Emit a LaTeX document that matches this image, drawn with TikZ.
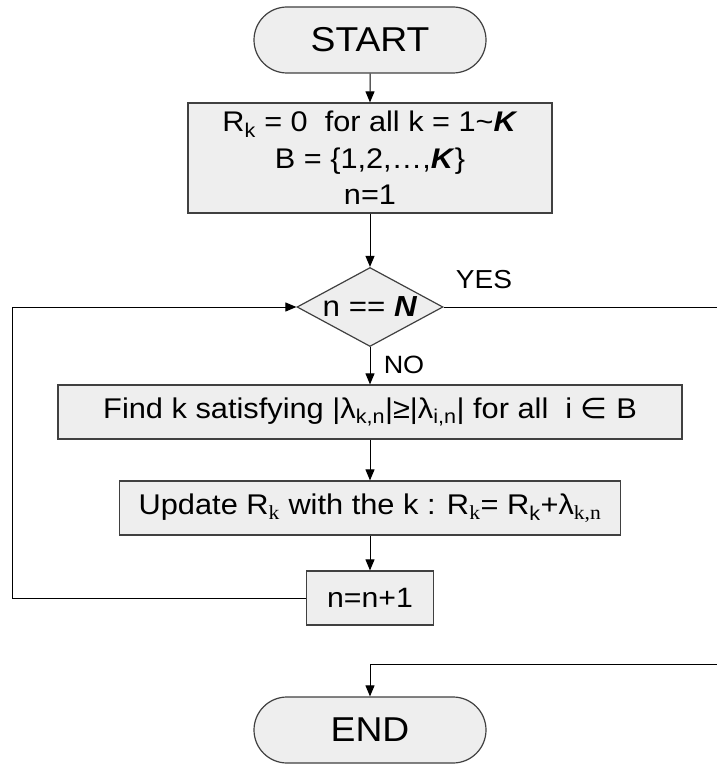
\documentclass[tikz,border=0pt]{standalone}
\usepackage{fontspec}
\setmainfont[FakeStretch=1.08]{Liberation Sans}
\newfontfamily\symfont[FakeStretch=1.08]{DejaVu Sans}
\newfontfamily\serifsub[FakeStretch=1.08]{Liberation Serif}
\usetikzlibrary{shapes.geometric,shapes.misc,arrows.meta}
\definecolor{boxfill}{RGB}{238,238,238}
\newcommand{\sz}[2]{\fontsize{#1}{#2}\selectfont}
\begin{document}
\begin{tikzpicture}[x=1pt,y=-1pt,
  box/.style={draw=black!75,fill=boxfill,line width=1.2pt,inner sep=0pt},
  term/.style={box,rounded rectangle,minimum width=232pt,minimum height=66pt,font=\sz{34.5}{40}},
  proc/.style={box,rectangle,minimum height=54pt,font=\sz{28.5}{34}},
  test/.style={box,diamond,shape aspect=2,minimum width=146pt,minimum height=79pt,font=\sz{29}{36}},
  flow/.style={draw,line width=1pt,-{Triangle[length=11pt,width=9pt]}},
  lbl/.style={font=\sz{26}{32}}]
\useasboundingbox (0,0) rectangle (716,765);
\node[term] (start) at (370,40){START};
\node[proc,minimum width=364pt,minimum height=110pt,align=center,font=\sz{28.4}{36.5}] (init) at (370,158){R\textsubscript{k} = 0~ for all k = 1\textasciitilde\textbf{\textit{K}}\\B = \{1,2,\textellipsis,\textbf{\textit{K}}\}\\n=1};
\node[test] (cmp) at (370,307){n == \textbf{\textit{N}}};
\node[proc,minimum width=624pt] (find) at (370,412){Find k satisfying |λ\textsubscript{k,n}|≥|λ\textsubscript{i,n}| for all~ i {\symfont ∈} B};
\node[proc,minimum width=501pt] (upd) at (370,508){Update R\textsubscript{\serifsub k} with the k : R\textsubscript{\serifsub k}= R\textsubscript{k}+λ\textsubscript{\serifsub k,n}};
\node[proc,minimum width=127pt,font=\sz{28}{34}] (inc) at (370,598){n=n+1};
\node[term] (stop) at (370,730){END};
\node[lbl] (yes) at (484,280){YES};\node[lbl,font=\sz{25}{30}] (no) at (404,365){NO};
\coordinate (loopL) at (12,598);\coordinate (yesR) at (722,307);\coordinate (endR) at (722,664);
\draw[flow] (start) -- (init);\draw[flow] (init) -- (cmp);\draw[flow] (cmp) -- (find);
\draw[flow] (find) -- (upd);\draw[flow] (upd) -- (inc);
\draw[flow] (inc.west) -- (loopL) |- (cmp.west);
\draw[flow] (cmp.east) -- (yesR) -- (endR) -| (stop.north);
\end{tikzpicture}
\end{document}
